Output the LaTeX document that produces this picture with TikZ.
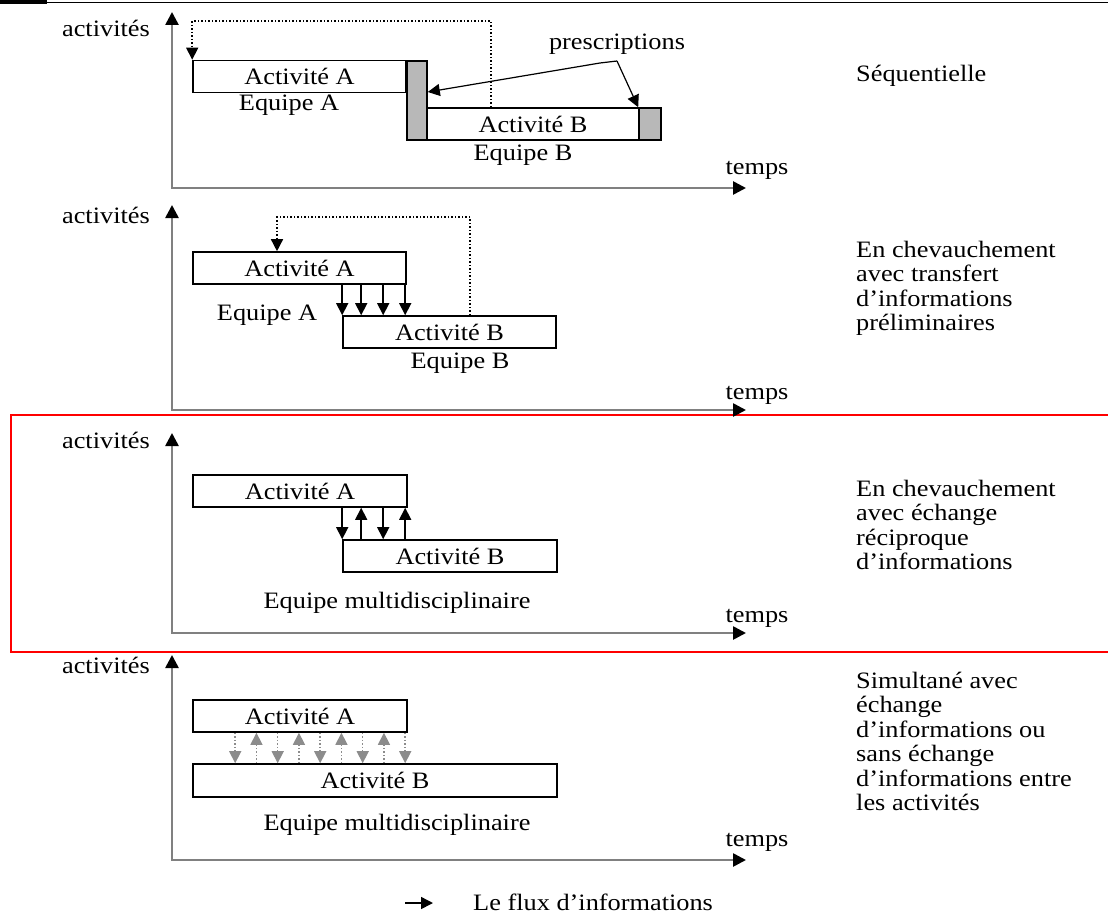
\documentclass[tikz,border=0pt]{standalone}
\usepackage{fontspec}
\setmainfont{Liberation Serif}[FakeStretch=1.12]
\usepackage{tikz}
\usetikzlibrary{positioning, calc, arrows.meta}

\begin{document}
\begin{tikzpicture}[
      x=1pt, y=-1pt,
      font=\fontsize{23.5}{24.4}\selectfont,
      box/.style={draw, line width=1.6pt, rectangle, inner sep=0pt, minimum height=32pt},
      greybar/.style={draw, line width=1.6pt, fill=black!28, inner sep=0pt, minimum width=20pt},
      axis/.style={draw=black!50, line width=2.6pt,
        {Triangle[length=13pt,width=13pt,color=black]}-{Triangle[length=13pt,width=13pt,color=black]}},
      flow/.style={line width=1.5pt, -{Triangle[length=12pt,width=12pt]}},
      flowdot/.style={flow, dotted},
      greyflow/.style={flowdot, draw=black!45},
      desc/.style={anchor=north west, align=left, inner sep=0pt},
      lbl/.style={inner sep=0pt}
    ]
      \useasboundingbox (0,0) rectangle (1108,915);

      % page rule and highlight frame
      \draw[line width=1pt] (0,3) -- (1108,3);
      \fill (0,0) rectangle (47,4);
      \draw[red, line width=1.5pt] (1108,415) -| (11,652) -- (1108,652);

      % axes
      \foreach \top/\bot/\n in {12/188/1, 205/410/2, 433/633/3, 655/860/4} {
        \coordinate (o\n) at (172,\bot);
        \draw[axis] (172,\top) -- (o\n) -- (746,\bot);
      }
      \node[lbl, anchor=east] (act1) at (150,28) {activités};
      \node[lbl, anchor=east] (act2) at (150,215) {activités};
      \node[lbl, anchor=east] (act3) at (150,440) {activités};
      \node[lbl, anchor=east] (act4) at (150,665) {activités};
      \node[lbl] (t1) at (757,170) {temps};
      \node[lbl] (t2) at (757,395) {temps};
      \node[lbl] (t3) at (757,618) {temps};
      \node[lbl] (t4) at (757,842) {temps};

      % Séquentielle
      \node[box, minimum width=213pt] (A1) at (299.5,76.5) {Activité A};
      \node[greybar, minimum height=79pt] (g1) at (417,100.5) {};
      \node[box, minimum width=212pt] (B1) at (533,124) {Activité B};
      \node[greybar, minimum width=22pt, minimum height=32pt] (g2) at (650,124) {};
      \node[lbl] (eqA1) at (289,105) {Equipe A};
      \node[lbl] (eqB1) at (523,155) {Equipe B};
      \node[lbl] (presc) at (617,44) {prescriptions};
      \coordinate (k1) at (600,63);
      \coordinate (k2) at (617,61);
      \draw[flow, line width=1.2pt] (k2) -- (k1) -- ([yshift=8.5pt]g1.east);
      \draw[flow, line width=1.2pt] (k2) -- (g2.north west);
      \draw[flowdot] ([xshift=-42pt]B1.north) -- ++(0,-86) -| (A1.north west);
      \node[desc] (d1) at (856,65) {Séquentielle};

      % En chevauchement, transfert
      \node[box, minimum width=213pt] (A2) at (299.5,268) {Activité A};
      \node[box, minimum width=213pt] (B2) at (449.5,332) {Activité B};
      \node[lbl] (eqA2) at (267,315) {Equipe A};
      \node[lbl] (eqB2) at (460,363) {Equipe B};
      \foreach \dx in {0,19,41,63}
        \draw[flow] ($(B2.north west |- A2.south)+(\dx,0)$) -- ($(B2.north west)+(\dx,0)$);
      \draw[flowdot] ([xshift=20.5pt]B2.north) -- ++(0,-98) -| ([xshift=-22.5pt]A2.north);
      \node[desc] (d2) at (856,241) {En chevauchement\\avec transfert\\d’informations\\préliminaires};

      % En chevauchement, échange
      \node[box, minimum width=214pt] (A3) at (300,491) {Activité A};
      \node[box, minimum width=214pt] (B3) at (450,556) {Activité B};
      \node[lbl] (eqM3) at (397,603) {Equipe multidisciplinaire};
      \foreach \dx in {0,41}
        \draw[flow] ($(B3.north west |- A3.south)+(\dx,0)$) -- ($(B3.north west)+(\dx,0)$);
      \foreach \dx in {19,63}
        \draw[flow] ($(B3.north west)+(\dx,0)$) -- ($(B3.north west |- A3.south)+(\dx,0)$);
      \node[desc] (d3) at (856,480) {En chevauchement\\avec échange\\réciproque\\d’informations};

      % Simultané
      \node[box, minimum width=214pt] (A4) at (300,716) {Activité A};
      \node[box, minimum width=364pt, minimum height=33pt] (B4) at (375,780.5) {Activité B};
      \node[lbl] (eqM4) at (397,825) {Equipe multidisciplinaire};
      \foreach \dx in {43,85.5,128,170.5,213}
        \draw[greyflow] ($(A4.south west)+(\dx,0)$) -- ($(A4.south west |- B4.north)+(\dx,0)$);
      \foreach \dx in {64.25,106.75,149.25,191.75}
        \draw[greyflow] ($(A4.south west |- B4.north)+(\dx,0)$) -- ($(A4.south west)+(\dx,0)$);
      \node[desc] (d4) at (856,672) {Simultané avec\\échange\\d’informations ou\\sans échange\\d’informations entre\\les activités};

      % legend
      \coordinate (leg) at (405,903);
      \node[lbl, anchor=west] (flux) at (473,902) {Le flux d’informations};
      \draw[flow] (leg) -- ++(28,0);
    \end{tikzpicture}
\end{document}
